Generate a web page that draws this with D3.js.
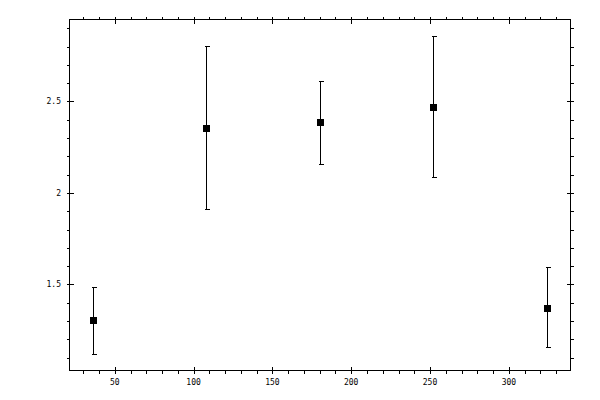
<!DOCTYPE html>
<html>
<head>
<meta charset="utf-8">
<script src="https://cdn.jsdelivr.net/npm/d3@7"></script>
<style>
  body { margin: 0; background: #fff; }
  text { font-family: "DejaVu Sans Mono", monospace; font-size: 8px; fill: #000; }
</style>
</head>
<body>
<div id="chart"></div>
<script>
const width = 600;
const height = 400;
const frame = { left: 69.5, right: 570.5, top: 19.5, bottom: 370.5 };

// data
const xValues = [36, 108, 180, 252, 324];
const yValues = [1.307, 2.356, 2.389, 2.471, 1.373];
const yLow = [1.121, 1.915, 2.16, 2.09, 1.16];
const yHigh = [1.487, 2.804, 2.613, 2.859, 1.593];

const xDomain = [21.3, 339.1];
const yDomain = [1.03, 2.948];
const xMajor = [50, 100, 150, 200, 250, 300];
const xMinor = d3.range(30, 340, 10);
const yMajor = [1.5, 2, 2.5];
const yMinor = d3.range(1.1, 2.95, 0.1);

const svg = d3
  .select("#chart")
  .append("svg")
  .attr("width", width)
  .attr("height", height);

const x = d3.scaleLinear().domain(xDomain).range([frame.left, frame.right]);
const y = d3.scaleLinear().domain(yDomain).range([frame.bottom, frame.top]);

const px = (v) => Math.round(x(v)) + 0.5;
const py = (v) => Math.round(y(v)) + 0.5;

const g = svg.append("g").attr("stroke", "#000").attr("shape-rendering", "crispEdges");

// frame
g.append("rect")
  .attr("x", frame.left)
  .attr("y", frame.top)
  .attr("width", frame.right - frame.left)
  .attr("height", frame.bottom - frame.top)
  .attr("fill", "none");

// minor ticks, outside on every side
xMinor.forEach((v) => {
  g.append("line").attr("x1", px(v)).attr("x2", px(v)).attr("y1", frame.bottom).attr("y2", frame.bottom + 3);
  g.append("line").attr("x1", px(v)).attr("x2", px(v)).attr("y1", frame.top).attr("y2", frame.top - 3);
});
yMinor.forEach((v) => {
  g.append("line").attr("y1", py(v)).attr("y2", py(v)).attr("x1", frame.left).attr("x2", frame.left - 3);
  g.append("line").attr("y1", py(v)).attr("y2", py(v)).attr("x1", frame.right).attr("x2", frame.right + 3);
});

// major ticks cross the frame
xMajor.forEach((v) => {
  g.append("line").attr("x1", px(v)).attr("x2", px(v)).attr("y1", frame.bottom - 4).attr("y2", frame.bottom + 3);
  g.append("line").attr("x1", px(v)).attr("x2", px(v)).attr("y1", frame.top + 4).attr("y2", frame.top - 3);
});
yMajor.forEach((v) => {
  g.append("line").attr("y1", py(v)).attr("y2", py(v)).attr("x1", frame.left - 3).attr("x2", frame.left + 4);
  g.append("line").attr("y1", py(v)).attr("y2", py(v)).attr("x1", frame.right - 4).attr("x2", frame.right + 3);
});

// tick labels
svg.selectAll(".xl")
  .data(xMajor)
  .enter()
  .append("text")
  .attr("x", (d) => x(d))
  .attr("y", 385)
  .attr("text-anchor", "middle")
  .text((d) => d);

svg.selectAll(".yl")
  .data(yMajor)
  .enter()
  .append("text")
  .attr("x", 61)
  .attr("y", (d) => y(d) + 3)
  .attr("text-anchor", "end")
  .text((d) => d);

// error bars
const pts = xValues.map((v, i) => ({ x: v, y: yValues[i], lo: yLow[i], hi: yHigh[i] }));

g.selectAll(".bar")
  .data(pts)
  .enter()
  .append("line")
  .attr("x1", (d) => px(d.x))
  .attr("x2", (d) => px(d.x))
  .attr("y1", (d) => py(d.lo))
  .attr("y2", (d) => py(d.hi));

g.selectAll(".capHi")
  .data(pts)
  .enter()
  .append("line")
  .attr("x1", (d) => px(d.x) - 2)
  .attr("x2", (d) => px(d.x) + 3)
  .attr("y1", (d) => py(d.hi))
  .attr("y2", (d) => py(d.hi));

g.selectAll(".capLo")
  .data(pts)
  .enter()
  .append("line")
  .attr("x1", (d) => px(d.x) - 2)
  .attr("x2", (d) => px(d.x) + 3)
  .attr("y1", (d) => py(d.lo))
  .attr("y2", (d) => py(d.lo));

// square markers
svg.selectAll(".pt")
  .data(pts)
  .enter()
  .append("rect")
  .attr("shape-rendering", "crispEdges")
  .attr("x", (d) => Math.round(x(d.x)) - 3)
  .attr("y", (d) => Math.round(y(d.y)) - 3)
  .attr("width", 7)
  .attr("height", 7)
  .attr("fill", "#000");
</script>
</body>
</html>
